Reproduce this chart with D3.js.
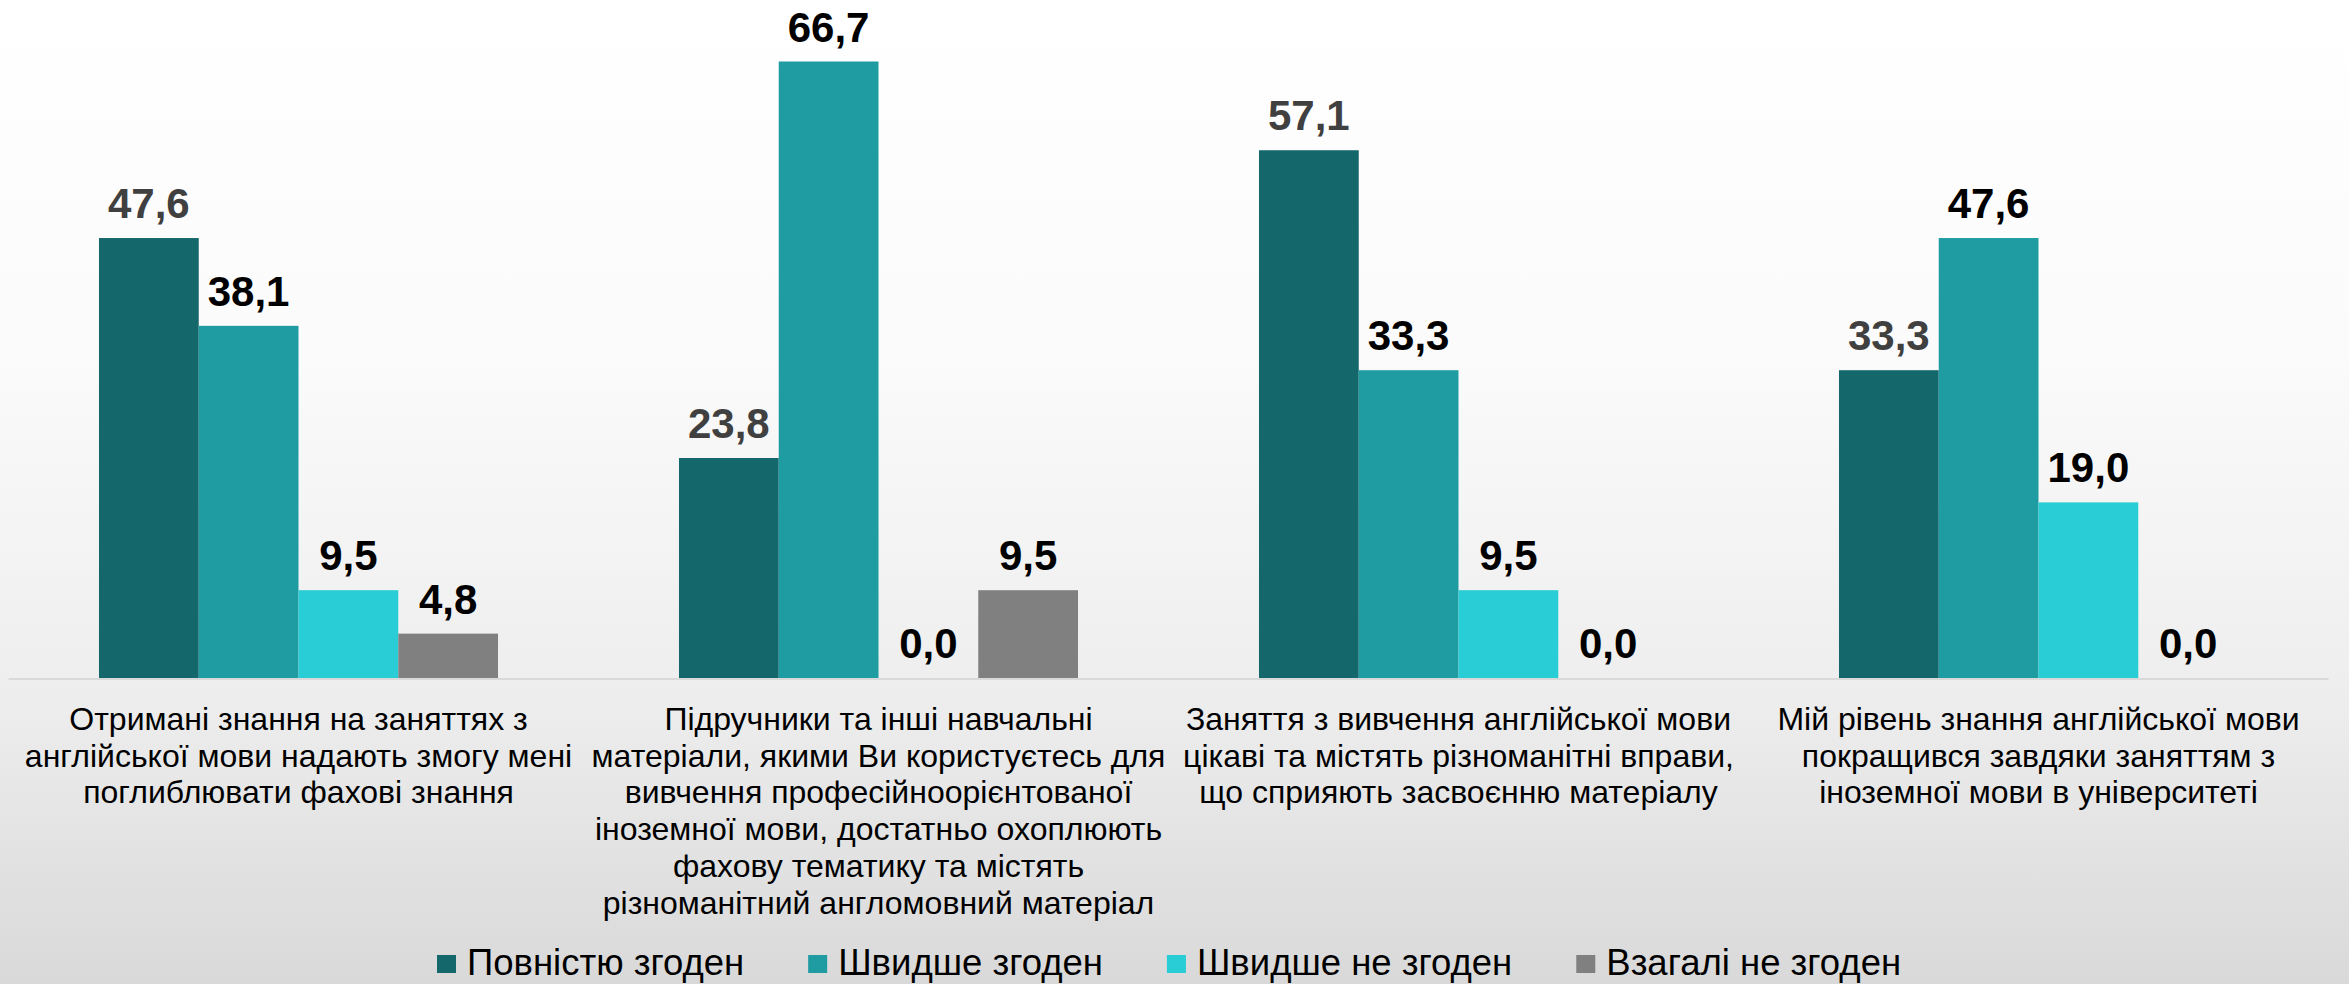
<!DOCTYPE html>
<html>
<head>
<meta charset="utf-8">
<script src="https://cdn.jsdelivr.net/npm/d3@7"></script>
<style>
  html, body { margin: 0; padding: 0; background: #fff; }
  svg { display: block; font-family: "Liberation Sans", Arial, sans-serif; }
</style>
</head>
<body>
<svg id="chart" width="2349" height="984"></svg>
<script>
// categories (each one is split into the lines shown under the bars)
const categories = [
  ["Отримані знання на заняттях з", "англійської мови надають змогу мені", "поглиблювати фахові знання"],
  ["Підручники та інші навчальні", "матеріали, якими Ви користуєтесь для", "вивчення професійноорієнтованої",
   "іноземної мови, достатньо охоплюють", "фахову тематику та містять", "різноманітний англомовний матеріал"],
  ["Заняття з вивчення англійської мови", "цікаві та містять різноманітні вправи,", "що сприяють засвоєнню матеріалу"],
  ["Мій рівень знання англійської мови", "покращився завдяки заняттям з", "іноземної мови в університеті"]
];
const seriesNames = ["Повністю згоден", "Швидше згоден", "Швидше не згоден", "Взагалі не згоден"];
const fullyAgree = [47.6, 23.8, 57.1, 33.3];
const ratherAgree = [38.1, 66.7, 33.3, 47.6];
const ratherDisagree = [9.5, 0.0, 9.5, 19.0];
const totallyDisagree = [4.8, 9.5, 0.0, 0.0];

const seriesValues = [fullyAgree, ratherAgree, ratherDisagree, totallyDisagree];
const colors = ["#14676b", "#1f9ca2", "#28cdd6", "#808080"];
const labelColors = ["#404040", "#000", "#000", "#000"];

const config = {
  width: 2349,
  height: 984,
  left: 8.5,
  right: 2328.5,
  baseline: 678,
  top: 31,
  valueFS: 42,
  catFS: 32,
  catLineH: 36.7,
  legendFS: 36.5
};

const svg = d3.select("#chart");

// background gradient
const defs = svg.append("defs");
const grad = defs.append("linearGradient")
  .attr("id", "bg").attr("x1", 0).attr("y1", 0).attr("x2", 0).attr("y2", 1);
[["0%", "#ffffff"], ["35%", "#fbfbfb"], ["70%", "#eeeeee"], ["100%", "#d9d9d9"]]
  .forEach(([o, c]) => grad.append("stop").attr("offset", o).attr("stop-color", c));
svg.append("rect").attr("width", config.width).attr("height", config.height).attr("fill", "url(#bg)");

const catIdx = categories.map((d, i) => i);

const x0 = d3.scaleBand()
  .domain(catIdx)
  .range([config.left, config.right])
  .paddingInner(0.312)
  .paddingOuter(0.156);

const x1 = d3.scaleBand()
  .domain(d3.range(seriesNames.length))
  .range([0, x0.bandwidth()]);

const y = d3.scaleLinear()
  .domain([0, 70])
  .range([config.baseline, config.top]);

const fmt = (v) => v.toFixed(1).replace(".", ",");

// flat table for the bars
const table = [];
catIdx.forEach((c) => {
  seriesValues.forEach((vals, s) => {
    table.push({ cat: c, series: s, value: vals[c] });
  });
});

// baseline
svg.append("line")
  .attr("x1", config.left).attr("x2", config.right)
  .attr("y1", y(0) + 1).attr("y2", y(0) + 1)
  .attr("stroke", "#d9d9d9").attr("stroke-width", 2);

const bars = svg.append("g").attr("class", "bars");
bars.selectAll("rect")
  .data(table)
  .join("rect")
  .attr("x", (d) => x0(d.cat) + x1(d.series))
  .attr("width", x1.bandwidth())
  .attr("y", (d) => y(d.value))
  .attr("height", (d) => y(0) - y(d.value))
  .attr("fill", (d) => colors[d.series]);

bars.selectAll("text")
  .data(table)
  .join("text")
  .attr("x", (d) => x0(d.cat) + x1(d.series) + x1.bandwidth() / 2)
  .attr("y", (d) => y(d.value) - 20)
  .style("text-anchor", "middle")
  .style("font-weight", "bold")
  .style("font-size", config.valueFS + "px")
  .style("fill", (d) => labelColors[d.series])
  .text((d) => fmt(d.value));

// category labels
const catGrp = svg.append("g").attr("class", "cat-labels");
catGrp.selectAll("text")
  .data(categories)
  .join("text")
  .attr("transform", (d, i) => `translate(${x0(i) + x0.bandwidth() / 2}, 730)`)
  .style("text-anchor", "middle")
  .style("font-size", config.catFS + "px")
  .style("fill", "#000")
  .selectAll("tspan")
  .data((d) => d)
  .join("tspan")
  .attr("x", 0)
  .attr("y", (d, i) => i * config.catLineH)
  .text((d) => d);

// legend
const legend = svg.append("g").attr("class", "legend");
let lx = 437;
seriesNames.forEach((name, i) => {
  const item = legend.append("g").attr("transform", `translate(${lx}, 0)`);
  item.append("rect")
    .attr("x", 0).attr("y", 955)
    .attr("width", 19).attr("height", 18)
    .attr("fill", colors[i]);
  const t = item.append("text")
    .attr("x", 30).attr("y", 975)
    .style("font-size", config.legendFS + "px")
    .style("fill", "#000")
    .text(name);
  lx += 30 + t.node().getComputedTextLength() + 64;
});
</script>
</body>
</html>
